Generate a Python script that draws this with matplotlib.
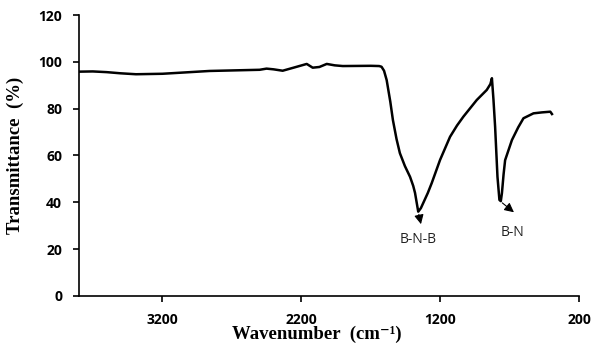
import numpy as np
import matplotlib
matplotlib.use('Agg')
import matplotlib.pyplot as plt

# FTIR spectrum
wavenumber = [3800, 3700, 3600, 3500, 3389, 3199, 3000, 2860, 2500, 2450, 2400, 2334,
              2250, 2161, 2118, 2070, 2017, 1960, 1902, 1700, 1640, 1623, 1605, 1586,
              1560, 1541, 1515, 1491, 1455, 1418, 1395, 1382, 1359, 1340, 1323, 1290,
              1262, 1202, 1130, 1080, 1034, 938, 866, 840, 829, 818, 806, 789, 775,
              765, 757, 745, 734, 685, 640, 602, 530, 470, 409, 397]
transmittance = [95.8, 95.9, 95.6, 95.1, 94.7, 94.9, 95.6, 96.1, 96.6, 97.1, 96.8, 96.2,
                 97.6, 99.1, 97.5, 97.8, 99.1, 98.5, 98.2, 98.3, 98.2, 97.9, 96.2, 92.2,
                 83.0, 75.1, 67.0, 61.0, 55.5, 50.9, 47.0, 44.0, 36.0, 37.5, 39.7, 44.0,
                 48.2, 58.1, 68.0, 72.8, 76.6, 83.7, 88.0, 90.5, 93.0, 84.0, 72.3, 50.9,
                 41.0, 40.5, 43.9, 52.0, 58.0, 66.6, 72.0, 75.9, 78.0, 78.4, 78.7, 77.7]

x_ticks = [3200, 2200, 1200, 200]
y_ticks = [0, 20, 40, 60, 80, 100, 120]

# peak labels: (text, peak x, peak y, arrow tip x, arrow tip y, label x, label y)
peaks = [('B-N-B', 1359, 36.0, 1335, 29.5, 1361, 23.9),
         ('B-N', 770, 40.5, 655, 35.0, 683, 26.9)]

fig = plt.figure(figsize=(5.93, 3.49), dpi=100)
ax = fig.add_axes([0.133, 0.152, 0.844, 0.805])

ax.plot(wavenumber, transmittance, color='black', lw=1.8, solid_joinstyle='round')

for text, px, py, tx, ty, lx, ly in peaks:
    ax.annotate('', xy=(tx, ty), xytext=(px, py),
                arrowprops=dict(arrowstyle='-|>', color='black', lw=0.8,
                                mutation_scale=14))
    ax.text(lx, ly, text, ha='center', va='center', fontsize=10,
            family='Open Sans', color='#222222')

ax.set_xlim(3800, 200)
ax.set_ylim(0, 120)
ax.set_xticks(x_ticks)
ax.set_yticks(y_ticks)

for s in ['top', 'right']:
    ax.spines[s].set_visible(False)
for s in ['left', 'bottom']:
    ax.spines[s].set_linewidth(1.2)

ax.tick_params(direction='out', length=4, width=1.2, pad=8)
for lab in ax.get_xticklabels() + ax.get_yticklabels():
    lab.set_fontsize(10)
    lab.set_fontweight('bold')
    lab.set_family('Open Sans')

ax.set_xlabel('Wavenumber  (cm\u207b\u00b9)', fontsize=13.5, fontweight='bold',
              family=['Liberation Serif', 'DejaVu Serif'])
ax.xaxis.set_label_coords(0.475, -0.105)
ax.set_ylabel('Transmittance  (%)', fontsize=13.5, fontweight='bold',
              family='Liberation Serif', labelpad=10)

fig.savefig('out.png', dpi=100)
